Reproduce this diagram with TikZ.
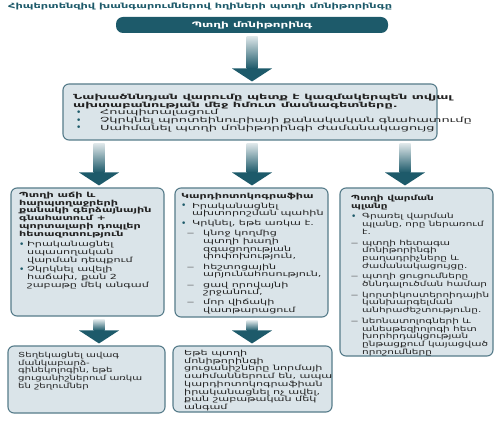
\documentclass[tikz,border=0pt]{standalone}
\usepackage{fontspec}
\setmainfont{DejaVu Sans}[FakeStretch=1.6]
\newfontfamily\plainf{DejaVu Sans}
\newfontfamily\midf{DejaVu Sans}[FakeStretch=1.85]
\newfontfamily\cthree{DejaVu Sans}[FakeStretch=1.5]
\newfontfamily\bone{DejaVu Sans}[FakeStretch=1.45]
\usetikzlibrary{calc}
\definecolor{teal1}{HTML}{1D5A6A}
\definecolor{boxfill}{HTML}{DAE4E9}
\definecolor{boxline}{HTML}{567C8A}
\definecolor{txtc}{HTML}{222222}
\newcommand{\bl}[1]{\makebox[#1][l]{\textcolor{teal1}{\plainf\fontsize{9}{7}\selectfont\raisebox{-0.6pt}{•}}}}
\newcommand{\ds}[1]{\makebox[#1][l]{\textcolor{txtc!85}{\plainf —}}}
\newcommand{\fatarrow}[3]{%
  \coordinate (xk) at (#1,0);
  \shade[top color=white!85!teal1, bottom color=teal1]
    ($(xk |- #2.south)+(-5.5,-3)$) rectangle ($(xk |- #3.north)+(5.5,15)$);
  \fill[teal1] ($(xk |- #3.north)+(-20,15)$) -- ($(xk |- #3.north)+(20,15)$)
    -- ($(xk |- #3.north)+(0,2)$) -- cycle;
}
\begin{document}
\begin{tikzpicture}[x=1pt,y=1pt,
  box/.style={draw=boxline, line width=1.1pt, fill=boxfill, rounded corners=6pt, inner sep=0pt},
  txt/.style={anchor=north west, align=left, inner sep=0pt, text=txtc, font=\fontsize{7}{7.7}\selectfont}]
\useasboundingbox (0,0) rectangle (503,-422);
\fill[white] (0,0) rectangle (503,-422);

\node[anchor=west, inner sep=0pt, text=teal1, font=\bfseries\fontsize{7.1}{8}\selectfont] (title) at (8,-7)
  {Հիպերտենզիվ խանգարումներով հղիների պտղի մոնիթորինգը};

\node[fill=teal1, rounded corners=7pt, minimum width=272pt, minimum height=16pt, inner sep=0pt,
  text=white, font=\bfseries\fontsize{7.5}{8}\selectfont] (top) at (252,-25) {Պտղի մոնիթորինգ};

\node[box, minimum width=374pt, minimum height=56pt] (mid) at (250,-112) {};
\node[txt, font=\midf\fontsize{7}{7.7}\selectfont] (midt) at (73,-94) {\bfseries Նախածննդյան վարումը պետք է կազմակերպեն տվյալ\\
\bfseries ախտաբանության մեջ հմուտ մասնագետները.\\
\hspace*{3pt}\bl{24pt}Հոսպիտալացում\\
\hspace*{3pt}\bl{24pt}Չկրկնել պրոտեինուրիայի քանակական գնահատումը\\
\hspace*{3pt}\bl{24pt}Սահմանել պտղի մոնիթորինգի ժամանակացույց};

\node[box, minimum width=153pt, minimum height=128pt] (c1) at (87.5,-252) {};
\node[box, minimum width=153pt, minimum height=129pt] (c2) at (251.5,-252.5) {};
\node[box, minimum width=153pt, minimum height=168pt] (c3) at (416.5,-272) {};
\node[box, minimum width=157pt, minimum height=67pt] (b1) at (86.5,-379.5) {};
\node[box, minimum width=159pt, minimum height=66pt] (b2) at (252.5,-379) {};

\node[txt] (c1t) at (19,-192) {\bfseries Պտղի աճի և\\ \bfseries հարպտղաջրերի\\ \bfseries քանակի գերձայնային\\ \bfseries գնահատում +\\ \bfseries պորտալարի դոպլեր\\ \bfseries հետազոտություն\\[3pt]
\bl{8pt}Իրականացնել\\ \hspace*{8pt}սպասողական\\ \hspace*{8pt}վարման դեպքում\\[2pt]
\bl{8pt}Չկրկնել ավելի\\ \hspace*{8pt}հաճախ, քան 2\\ \hspace*{8pt}շաբաթը մեկ անգամ};

\node[txt] (c2t) at (181,-193) {\bfseries Կարդիոտոկոգրաֆիա\\[2pt]
\bl{11pt}Իրականացնել\\ \hspace*{11pt}ախտորոշման պահին\\[2pt]
\bl{11pt}Կրկնել, եթե առկա է.\\[2.5pt]
\hspace*{6pt}\ds{16pt}կնոջ կողմից\\ \hspace*{22pt}պտղի խաղի\\ \hspace*{22pt}զգացողության\\ \hspace*{22pt}փոփոխություն,\\[2.5pt]
\hspace*{6pt}\ds{16pt}հեշտոցային\\ \hspace*{22pt}արյունահոսություն,\\[2.5pt]
\hspace*{6pt}\ds{16pt}ցավ որովայնի\\ \hspace*{22pt}շրջանում,\\[2.5pt]
\hspace*{6pt}\ds{16pt}մոր վիճակի\\ \hspace*{22pt}վատթարացում};

\node[txt, font=\cthree\fontsize{7}{7.7}\selectfont] (c3t) at (351,-195) {\bfseries Պտղի վարման\\ \bfseries պլանը\\[3pt]
\bl{11pt}Գրառել վարման\\ \hspace*{11pt}պլանը, որը ներառում\\ \hspace*{11pt}է.\\[3pt]
\ds{11pt}պտղի հետագա\\ \hspace*{11pt}մոնիթորինգի\\ \hspace*{11pt}բաղադրիչները և\\ \hspace*{11pt}ժամանակացույցը.\\[3pt]
\ds{11pt}պտղի ցուցումները\\ \hspace*{11pt}ծննդալուծման համար\\[3pt]
\ds{11pt}կորտիկոստերոիդային\\ \hspace*{11pt}կանխարգելման\\ \hspace*{11pt}անհրաժեշտությունը.\\[3pt]
\ds{11pt}նեոնատոլոգների և\\ \hspace*{11pt}անեսթեզիոլոգի հետ\\ \hspace*{11pt}խորհրդակցության\\ \hspace*{11pt}ընթացքում կայացված\\ \hspace*{11pt}որոշումները};

\node[txt, font=\bone\fontsize{7}{7.7}\selectfont] (b1t) at (18,-352) {Տեղեկացնել ավագ\\ մանկաբարձ-\\ գինեկոլոգին, եթե\\ ցուցանիշներում առկա\\ են շեղումներ};

\node[txt] (b2t) at (184,-350) {Եթե պտղի\\ մոնիթորինգի\\ ցուցանիշները նորմայի\\ սահմաններում են, ապա\\ կարդիոտոկոգրաֆիան\\ իրականացնել ոչ ավել,\\ քան շաբաթական մեկ\\ անգամ};

\fatarrow{252}{top}{mid}
\fatarrow{99}{mid}{c1}
\fatarrow{252}{mid}{c2}
\fatarrow{405}{mid}{c3}
\fatarrow{99}{c1}{b1}
\fatarrow{252}{c2}{b2}
\end{tikzpicture}
\end{document}
